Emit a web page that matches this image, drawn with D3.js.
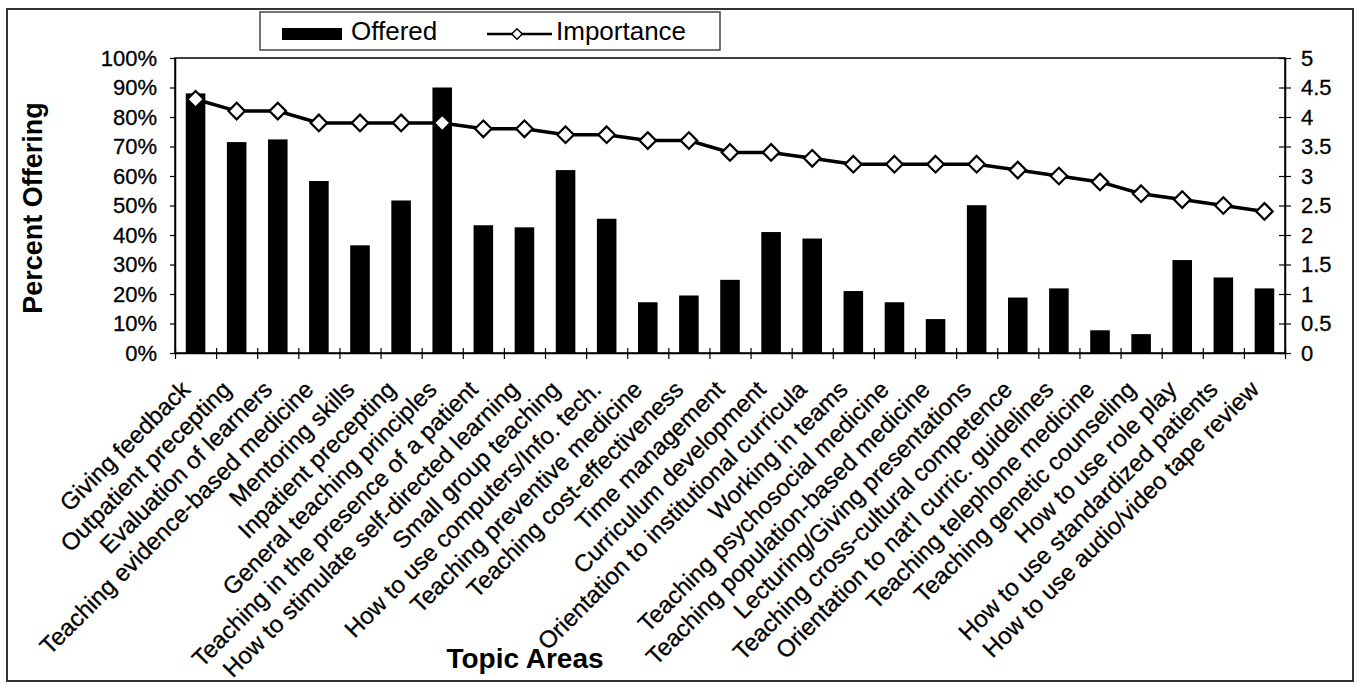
<!DOCTYPE html>
<html>
<head>
<meta charset="utf-8">
<script src="https://cdn.jsdelivr.net/npm/d3@7"></script>
<style>
    body { margin: 0; background: #fff; }
    text { font-family: "Liberation Sans", Arial, sans-serif; fill: #000; }
</style>
</head>
<body>
<div id="chart"></div>
<script>
// Topic areas along the x axis
const categories = [
    "Giving feedback", "Outpatient precepting", "Evaluation of learners",
    "Teaching evidence-based medicine", "Mentoring skills", "Inpatient precepting",
    "General teaching principles", "Teaching in the presence of a patient",
    "How to stimulate self-directed learning", "Small group teaching",
    "How to use computers/Info. tech.", "Teaching preventive medicine",
    "Teaching cost-effectiveness", "Time management", "Curriculum development",
    "Orientation to institutional curricula", "Working in teams",
    "Teaching psychosocial medicine", "Teaching population-based medicine",
    "Lecturing/Giving presentations", "Teaching cross-cultural competence",
    "Orientation to nat'l curric. guidelines", "Teaching telephone medicine",
    "Teaching genetic counseling", "How to use role play",
    "How to use standardized patients", "How to use audio/video tape review"
];
// Percent offering (left axis)
const offered = [88, 71.5, 72.4, 58.3, 36.5, 51.7, 90, 43.3, 42.6, 62, 45.5, 17.2, 19.5,
    24.8, 41, 38.8, 21, 17.2, 11.5, 50.1, 18.8, 21.9, 7.7, 6.4, 31.5, 25.6, 21.9];
// Importance rating (right axis)
const importance = [4.3, 4.1, 4.1, 3.9, 3.9, 3.9, 3.9, 3.8, 3.8, 3.7, 3.7, 3.6, 3.6,
    3.4, 3.4, 3.3, 3.2, 3.2, 3.2, 3.2, 3.1, 3.0, 2.9, 2.7, 2.6, 2.5, 2.4];
const leftTicks = [0, 10, 20, 30, 40, 50, 60, 70, 80, 90, 100];
const rightTicks = [0, 0.5, 1, 1.5, 2, 2.5, 3, 3.5, 4, 4.5, 5];

const width = 1358, height = 684;
const plot = {left: 175, right: 1285, top: 58, bottom: 353};

const svg = d3.select("#chart").append("svg")
    .attr("width", width)
    .attr("height", height);

//Outer frame
svg.append("rect")
    .attr("x", 7).attr("y", 9)
    .attr("width", 1346).attr("height", 672)
    .attr("fill", "none")
    .attr("stroke", "#333")
    .attr("stroke-width", 2);

//Scales
const x = d3.scaleBand()
    .domain(categories)
    .range([plot.left, plot.right])
    .paddingInner(0.524)
    .paddingOuter(0.262);
const xEdge = d3.scaleLinear()
    .domain([0, categories.length])
    .range([plot.left, plot.right]);
const yLeft = d3.scaleLinear()
    .domain([0, 100])
    .range([plot.bottom, plot.top]);
const yRight = d3.scaleLinear()
    .domain([0, 5])
    .range([plot.bottom, plot.top]);

//Plot area border
svg.append("rect")
    .attr("x", plot.left).attr("y", plot.top)
    .attr("width", plot.right - plot.left)
    .attr("height", plot.bottom - plot.top)
    .attr("fill", "none")
    .attr("stroke", "#000")
    .attr("stroke-width", 1.5);

//Bars
svg.selectAll(".bar")
    .data(offered)
    .enter()
    .append("rect")
    .attr("class", "bar")
    .attr("x", (d, i) => x(categories[i]))
    .attr("y", d => yLeft(d))
    .attr("width", x.bandwidth())
    .attr("height", d => yLeft(0) - yLeft(d))
    .attr("fill", "#000");

//Left axis
const leftAxis = svg.append("g")
    .attr("transform", "translate(" + plot.left + ",0)")
    .call(d3.axisLeft(yLeft)
        .tickValues(leftTicks)
        .tickFormat(d => d + "%")
        .tickSize(5)
        .tickSizeOuter(0)
        .tickPadding(13));

//Right axis
const rightAxis = svg.append("g")
    .attr("transform", "translate(" + plot.right + ",0)")
    .call(d3.axisRight(yRight)
        .tickValues(rightTicks)
        .tickFormat(d3.format(""))
        .tickSize(6)
        .tickSizeOuter(0)
        .tickPadding(10));
rightAxis.selectAll(".tick line").attr("x1", -6);

//Bottom axis, ticks between categories
const bottomAxis = svg.append("g")
    .attr("transform", "translate(0," + plot.bottom + ")")
    .call(d3.axisBottom(xEdge)
        .tickValues(d3.range(categories.length + 1))
        .tickFormat("")
        .tickSize(6)
        .tickSizeOuter(0));
bottomAxis.selectAll(".tick line").attr("y1", -5);

[leftAxis, rightAxis, bottomAxis].forEach(function (g) {
    g.select(".domain").attr("stroke", "#000").attr("stroke-width", 1.5);
    g.selectAll(".tick line").attr("stroke", "#000").attr("stroke-width", 1.2);
    g.selectAll("text")
        .style("font-family", '"Liberation Sans", Arial, sans-serif')
        .style("font-size", "22px")
        .attr("fill", "#000")
        .attr("stroke", "#000")
        .attr("stroke-width", 0.3);
});

//Importance line
const line = d3.line()
    .x((d, i) => x(categories[i]) + x.bandwidth() / 2)
    .y(d => yRight(d));
svg.append("path")
    .datum(importance)
    .attr("d", line)
    .attr("fill", "none")
    .attr("stroke", "#000")
    .attr("stroke-width", 3.5);

const diamond = d3.symbol().type(d3.symbolDiamond2).size(175);
svg.selectAll(".marker")
    .data(importance)
    .enter()
    .append("path")
    .attr("class", "marker")
    .attr("d", diamond)
    .attr("transform", (d, i) => "translate(" + (x(categories[i]) + x.bandwidth() / 2) + "," + yRight(d) + ")")
    .attr("fill", "#fff")
    .attr("stroke", "#000")
    .attr("stroke-width", 2.2);

//Category labels
svg.selectAll(".cat-label")
    .data(categories)
    .enter()
    .append("text")
    .attr("class", "cat-label")
    .attr("text-anchor", "end")
    .style("font-size", "24px")
    .attr("stroke", "#000")
    .attr("stroke-width", 0.3)
    .attr("transform", d => "translate(" + (x(d) + x.bandwidth() / 2 - 4) + ",391) rotate(-45)")
    .text(d => d);

//Axis titles
svg.append("text")
    .attr("transform", "translate(42,208) rotate(-90)")
    .attr("text-anchor", "middle")
    .style("font-size", "27px")
    .style("font-weight", "bold")
    .text("Percent Offering");
svg.append("text")
    .attr("x", 525)
    .attr("y", 668)
    .attr("text-anchor", "middle")
    .style("font-size", "28px")
    .style("font-weight", "bold")
    .text("Topic Areas");

//Legend
const legend = svg.append("g");
legend.append("rect")
    .attr("x", 260).attr("y", 12)
    .attr("width", 460).attr("height", 38)
    .attr("fill", "#fff")
    .attr("stroke", "#444")
    .attr("stroke-width", 1.5);
legend.append("rect")
    .attr("x", 282).attr("y", 28)
    .attr("width", 60).attr("height", 12)
    .attr("fill", "#000");
legend.append("text")
    .attr("x", 351).attr("y", 40)
    .style("font-size", "26px")
    .text("Offered");
legend.append("line")
    .attr("x1", 487).attr("x2", 552)
    .attr("y1", 34).attr("y2", 34)
    .attr("stroke", "#000")
    .attr("stroke-width", 2.5);
legend.append("path")
    .attr("d", d3.symbol().type(d3.symbolDiamond2).size(70))
    .attr("transform", "translate(517,34)")
    .attr("fill", "#fff")
    .attr("stroke", "#000")
    .attr("stroke-width", 1.5);
legend.append("text")
    .attr("x", 556).attr("y", 40)
    .style("font-size", "26px")
    .text("Importance");
</script>
</body>
</html>
